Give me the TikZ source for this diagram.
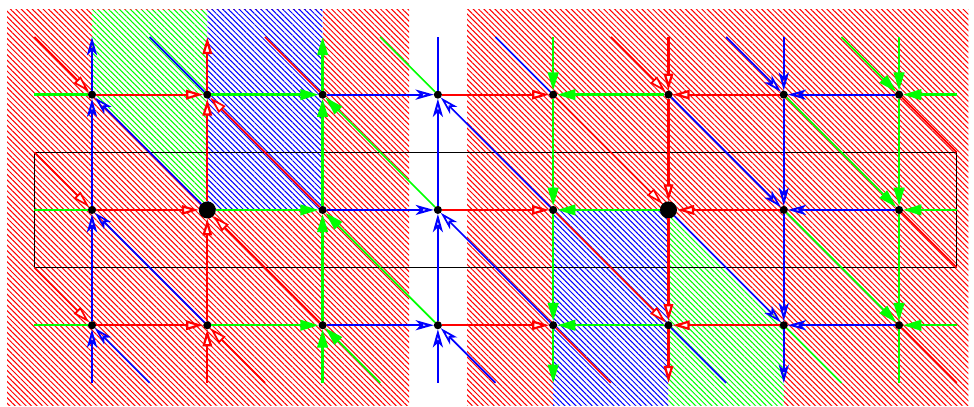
\documentclass[tikz,border=0pt]{standalone}
\usetikzlibrary{arrows.meta,patterns.meta}

\tikzset{
  dot/.style={circle, fill=black, inner sep=0pt, outer sep=0pt, minimum size=2pt},
  bigdot/.style={dot, minimum size=4.2pt},
  hatch/.style={pattern={Lines[angle=-45, distance=0.95pt, line width=0.25pt]}, pattern color=#1},
  hatchover/.style={preaction={fill=white}, hatch=#1},
  redln/.style={draw=red, line width=0.55pt},
  greenln/.style={draw=green, line width=0.6pt},
  blueln/.style={draw=blue, line width=0.5pt},
  redarr/.style={redln, -{Triangle[fill=white, length=4.2pt, width=2.3pt]}},
  greenarr/.style={greenln, -{Triangle[length=4.5pt, width=2.6pt]}},
  bluearr/.style={blueln, -{Stealth[open, length=4.5pt, width=2.5pt, inset=1.2pt]}},
  slant/.style={line width=0.42pt},
}

\begin{document}
\begin{tikzpicture}
    \useasboundingbox (-0.798,-1.709) rectangle (7.650,1.821);

    % hatched bands
    \path[hatch=red] (-0.737,-1.70) rectangle (2.75,1.735);
    \path[hatch=red] (3.253,-1.70) rectangle (7.6,1.735);
    \path[hatchover=green] (0,1.735) -- (1,1.735) -- (1,0) -- (0,1) -- cycle;
    \path[hatchover=blue] (1,0) rectangle (2,1.735);
    \path[hatchover=blue] (4,0) rectangle (5,-1.70);
    \path[hatchover=green] (5,0) -- (6,-1) -- (6,-1.70) -- (5,-1.70) -- cycle;

    % frame
    \draw[line width=0.3pt] (-0.5,-0.5) rectangle (7.5,0.5);

    % grid points
    \foreach \i in {1,...,8} {
        \node[dot] (p\i1) at (\i-1,1) {};
        \node[dot] (p\i3) at (\i-1,-1) {};
    }
    \foreach \i in {1,3,4,5,7,8}
        \node[dot] (p\i2) at (\i-1,0) {};
    \node[bigdot] (p22) at (1,0) {};
    \node[bigdot] (p62) at (5,0) {};

    % free ends
    \foreach \i in {1,...,8} {
        \coordinate (t\i) at (\i-1,1.5);
        \coordinate (b\i) at (\i-1,-1.5);
        \coordinate (u\i) at (\i-1.5,1.5);
        \coordinate (d\i) at (\i-0.5,-1.5);
    }
    \foreach \j in {1,2,3} {
        \coordinate (L\j) at (-0.5,2-\j);
        \coordinate (R\j) at (7.5,2-\j);
        \coordinate (ul\j) at (-0.5,2.5-\j);
        \coordinate (dr\j) at (7.5,1.5-\j);
    }

    % rows
    \foreach \j in {1,2,3} {
        \draw[greenln] (L\j) -- (p1\j);
        \draw[redarr] (p1\j) -- (p2\j);
        \draw[greenarr] (p2\j) -- (p3\j);
        \draw[bluearr] (p3\j) -- (p4\j);
        \draw[redarr] (p4\j) -- (p5\j);
        \draw[greenarr] (p6\j) -- (p5\j);
        \draw[redarr] (p7\j) -- (p6\j);
        \draw[bluearr] (p8\j) -- (p7\j);
        \draw[greenarr] (R\j) -- (p8\j);
    }

    % columns, upwards
    \foreach \i/\s in {1/bluearr, 2/redarr, 3/greenarr} {
        \draw[\s] (b\i) -- (p\i3);
        \draw[\s] (p\i3) -- (p\i2);
        \draw[\s] (p\i2) -- (p\i1);
        \draw[\s] (p\i1) -- (t\i);
    }
    \draw[bluearr] (b4) -- (p43);
    \draw[bluearr] (p43) -- (p42);
    \draw[bluearr] (p42) -- (p41);
    \draw[blueln] (p41) -- (t4);

    % columns, downwards
    \foreach \i/\s in {5/greenarr, 6/redarr, 7/bluearr} {
        \draw[\s] (t\i) -- (p\i1);
        \draw[\s] (p\i1) -- (p\i2);
        \draw[\s] (p\i2) -- (p\i3);
        \draw[\s] (p\i3) -- (b\i);
    }
    \draw[greenarr] (t8) -- (p81);
    \draw[greenarr] (p81) -- (p82);
    \draw[greenarr] (p82) -- (p83);
    \draw[greenln] (p83) -- (b8);

    % diagonals, left half
    \foreach \i/\k/\s/\c in {1/2/bluearr/blueln, 2/3/redarr/redln, 3/4/greenarr/greenln, 4/5/bluearr/blueln} {
        \draw[\s, slant] (p\k2) -- (p\i1);
        \draw[\s, slant] (p\k3) -- (p\i2);
        \draw[\s, slant] (d\i) -- (p\i3);
        \draw[\c, slant] (u\k) -- (p\k1);
    }
    \foreach \j in {1,2,3}
        \draw[redarr, slant] (ul\j) -- (p1\j);

    % diagonals, right half
    \foreach \i/\k/\s/\c in {5/6/redarr/redln, 6/7/bluearr/blueln, 7/8/greenarr/greenln} {
        \draw[\s, slant] (u\k) -- (p\k1);
        \draw[\s, slant] (p\i1) -- (p\k2);
        \draw[\s, slant] (p\i2) -- (p\k3);
        \draw[\c, slant] (p\i3) -- (d\i);
    }
    \foreach \j in {1,2,3}
        \draw[redln, slant] (p8\j) -- (dr\j);
\end{tikzpicture}
\end{document}
